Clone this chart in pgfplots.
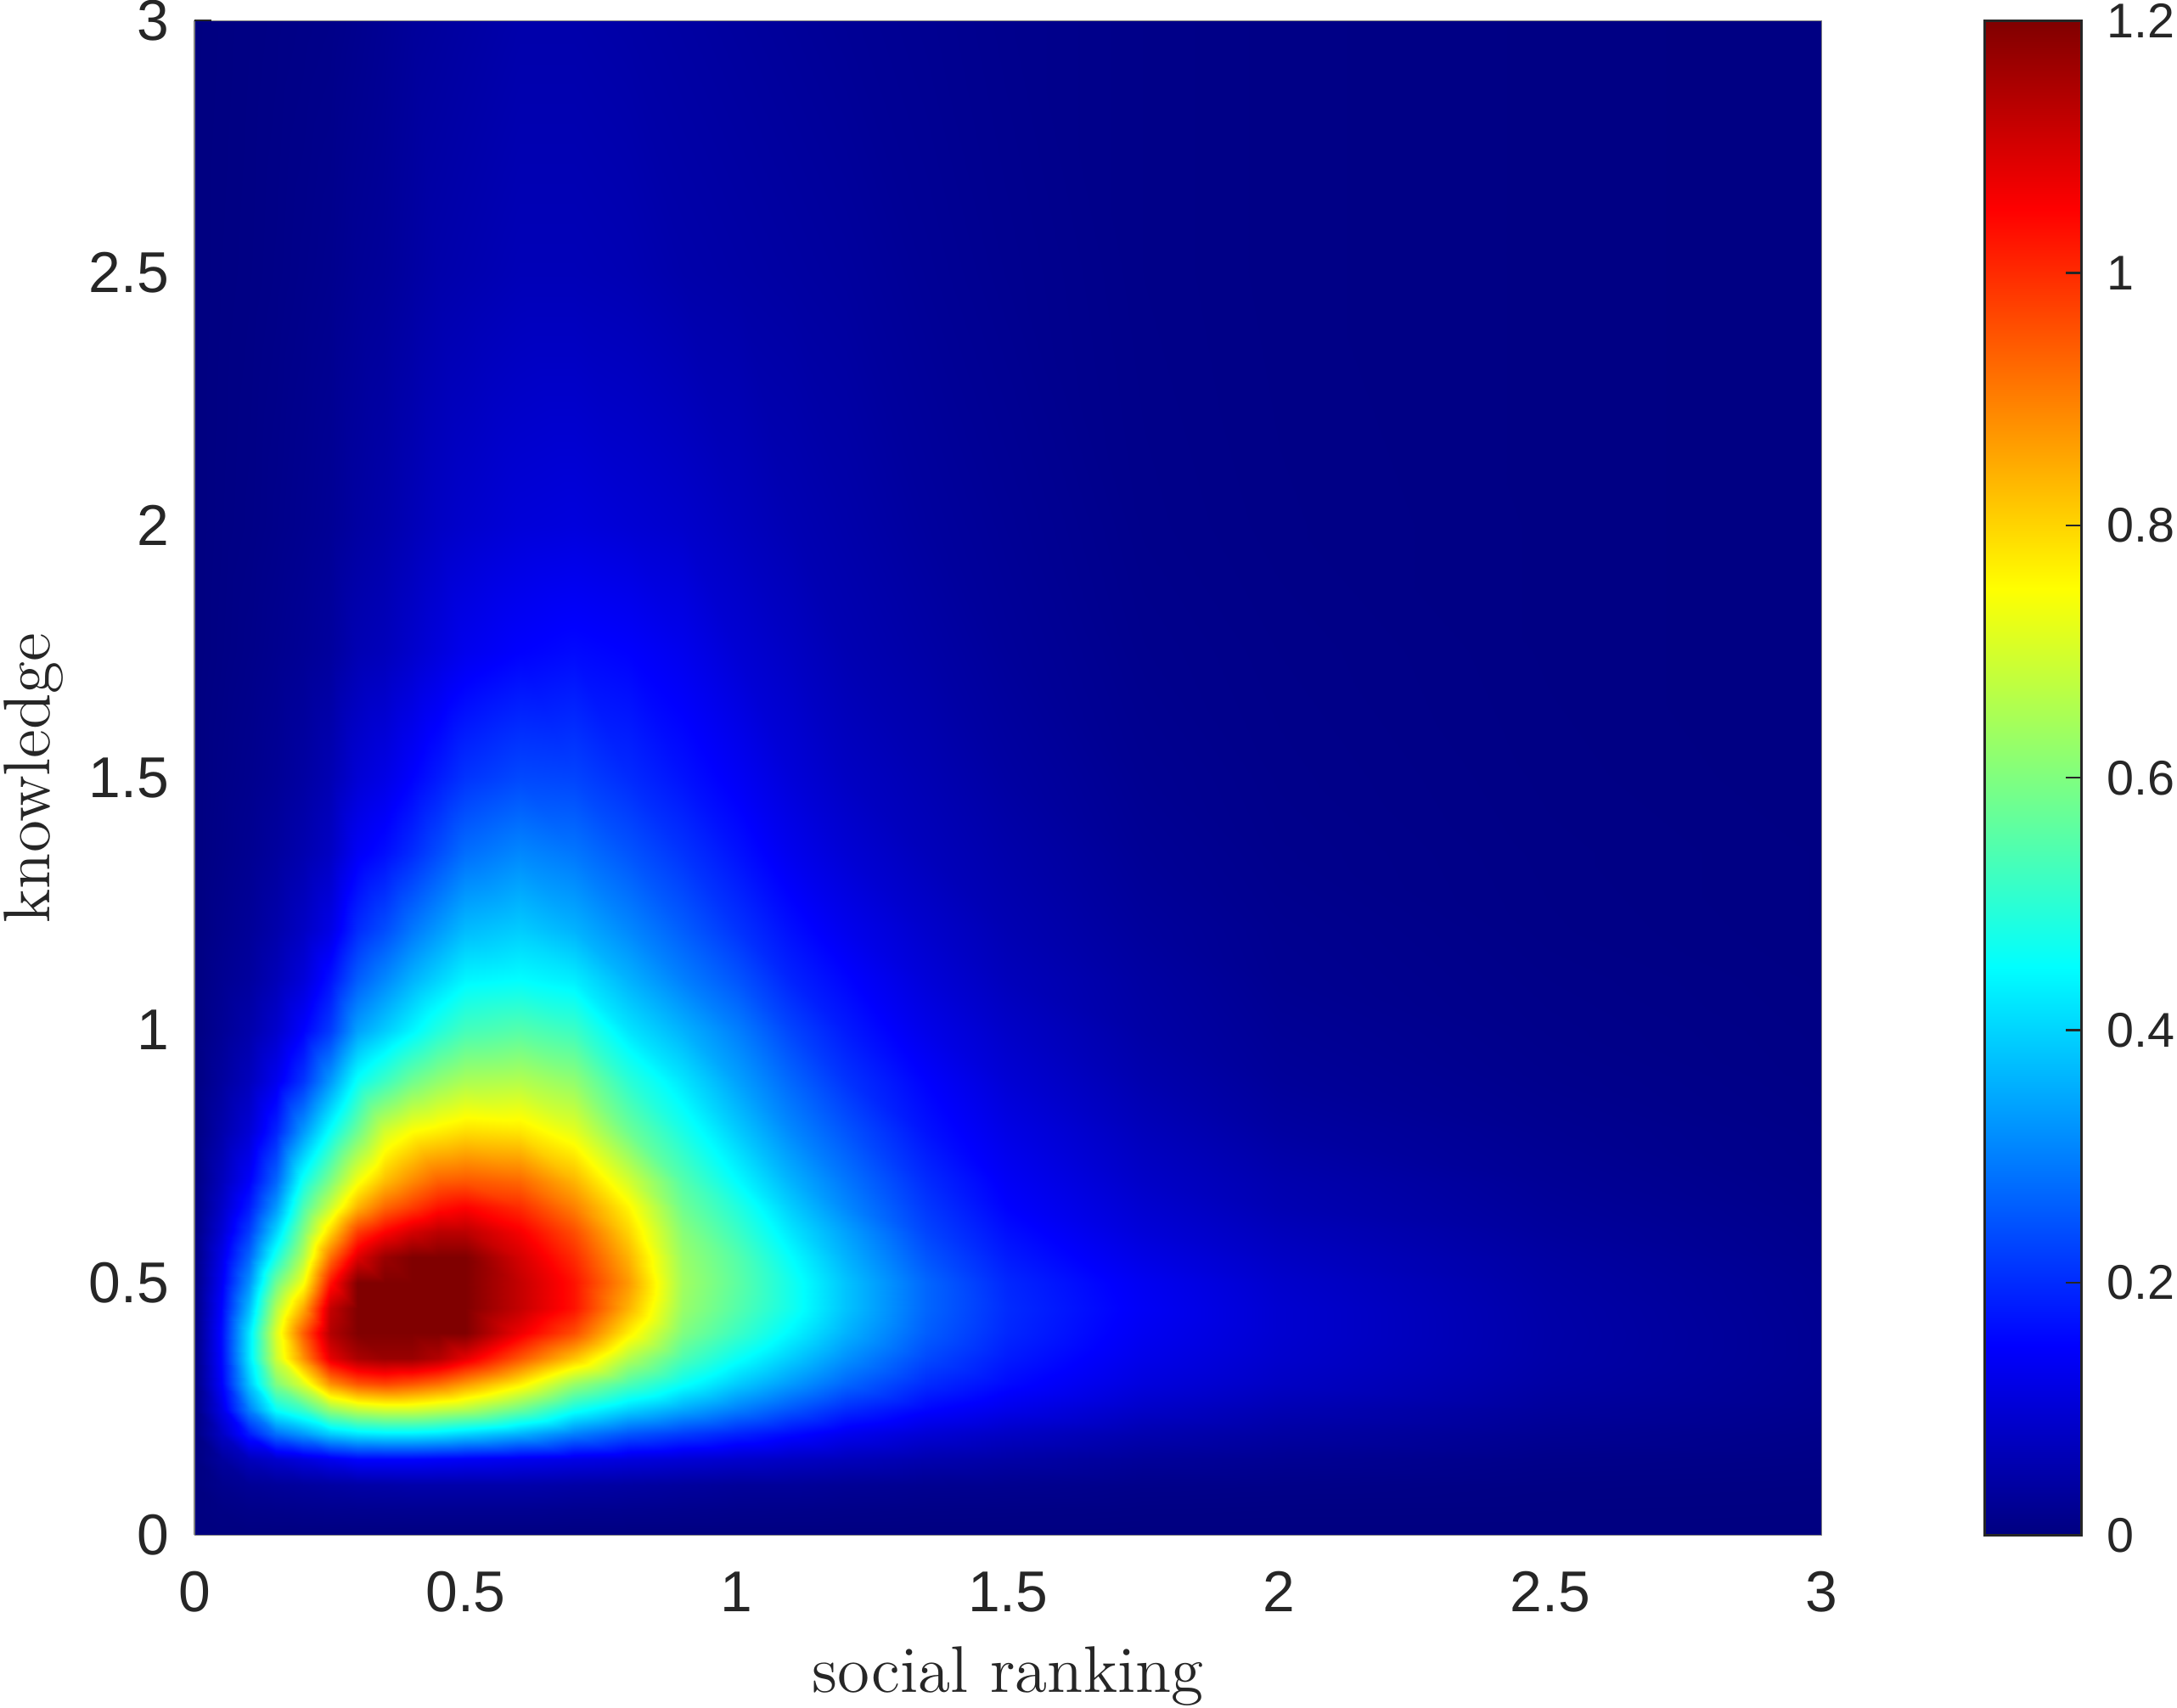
\documentclass[border=0pt]{standalone}
\usepackage{fontspec}
\usepackage{pgfplots}
\pgfplotsset{compat=1.18}
\newfontfamily\arial{Liberation Sans}
\definecolor{tickgray}{HTML}{262626}
\begin{document}
\begin{tikzpicture}
\useasboundingbox (0,0) rectangle (15.68,12.30);
\begin{axis}[
    at={(1.4006cm,1.2415cm)}, anchor=origin,
    scale only axis,
    width=11.72cm, height=10.91cm,
    view={0}{90},
    xmin=0, xmax=3, ymin=0, ymax=3,
    xtick={0,0.5,...,3}, ytick={0,0.5,...,3},
    xticklabels={0,0.5,1,1.5,2,2.5,3},
    yticklabels={0,0.5,1,1.5,2,2.5,3},
    tick style={draw=none},
    ytick pos=left,
    axis line style={draw=gray, line width=0.2pt},
    tick label style={font=\arial\fontsize{11.8}{13}\selectfont, text=tickgray},
    /pgf/number format/assume math mode=true,
    xticklabel style={yshift=-0.14cm},
    yticklabel style={xshift=-0.06cm},
    extra y ticks={3},
    extra y tick labels={},
    extra tick style={tick style={draw=tickgray, line width=0.4pt}, major tick length=0.12cm, tick align=inside},
    xlabel={social ranking},
    ylabel={knowledge},
    label style={font=\fontsize{13.5}{15}\selectfont, text=tickgray},
    xlabel style={at={(axis description cs:0.5,0)}, anchor=base, yshift=-1.13cm},
    ylabel style={at={(axis description cs:0,0.5)}, anchor=base, rotate=0, yshift=1.04cm},
    colormap={mjet}{rgb255(0cm)=(0,0,128) rgb255(1cm)=(0,0,255) rgb255(3cm)=(0,255,255) rgb255(5cm)=(255,255,0) rgb255(7cm)=(255,0,0) rgb255(8cm)=(128,0,0)},
    point meta min=0, point meta max=1.2,
    colorbar,
    colorbar/width=0.697cm,
    colorbar shift/.style={xshift=1.174cm},
    colorbar style={
        at={(parent axis.south east)}, anchor=south west,
        height=10.91cm,
        ymin=0, ymax=1.2,
        ytick={0,0.2,...,1.2},
        yticklabels={0,0.2,0.4,0.6,0.8,1,1.2},
        ytick pos=right,
        yticklabel pos=right,
        tick align=inside,
        major tick length=0.11cm,
        axis line style={draw=tickgray, line width=0.5pt},
        tick style={draw=tickgray, line width=0.4pt},
        tick label style={font=\arial\fontsize{10}{12}\selectfont, text=tickgray},
        yticklabel style={xshift=0.06cm},
        /pgf/number format/assume math mode=true,
    },
]
\addplot3[surf, shader=interp, mesh/ordering=y varies, mesh/cols=24, mesh/rows=26]
  table[row sep=\\, header=false, x index=0, y index=1, z index=2] {
0 0 0\\0 0.05 0\\0 0.1 0\\0 0.15 0\\0 0.2 0\\0 0.25 0\\0 0.3 0\\0 0.35 0\\0 0.4 0\\0 0.45 0\\0 0.5 0\\0 0.55 0\\0 0.6 0\\0 0.65 0\\0 0.7 0\\0 0.8 0\\0 0.9 0\\0 1 0\\0 1.1 0\\0 1.2 0\\0 1.35 0\\0 1.5 0\\0 1.75 0\\0 2 0\\0 2.5 0\\0 3 0\\
0.05 0 0\\0.05 0.05 0.005\\0.05 0.1 0.015\\0.05 0.15 0.035\\0.05 0.2 0.08\\0.05 0.25 0.12\\0.05 0.3 0.15\\0.05 0.35 0.16\\0.05 0.4 0.165\\0.05 0.45 0.155\\0.05 0.5 0.14\\0.05 0.55 0.125\\0.05 0.6 0.1\\0.05 0.65 0.085\\0.05 0.7 0.07\\0.05 0.8 0.05\\0.05 0.9 0.035\\0.05 1 0.025\\0.05 1.1 0.02\\0.05 1.2 0.015\\0.05 1.35 0.01\\0.05 1.5 0.008\\0.05 1.75 0.005\\0.05 2 0.004\\0.05 2.5 0.003\\0.05 3 0.002\\
0.1 0 0\\0.1 0.05 0.01\\0.1 0.1 0.025\\0.1 0.15 0.07\\0.1 0.2 0.18\\0.1 0.25 0.3\\0.1 0.3 0.38\\0.1 0.35 0.42\\0.1 0.4 0.42\\0.1 0.45 0.37\\0.1 0.5 0.32\\0.1 0.55 0.27\\0.1 0.6 0.22\\0.1 0.65 0.18\\0.1 0.7 0.145\\0.1 0.8 0.1\\0.1 0.9 0.07\\0.1 1 0.05\\0.1 1.1 0.035\\0.1 1.2 0.028\\0.1 1.35 0.02\\0.1 1.5 0.015\\0.1 1.75 0.01\\0.1 2 0.007\\0.1 2.5 0.005\\0.1 3 0.004\\
0.15 0 0\\0.15 0.05 0.012\\0.15 0.1 0.03\\0.15 0.15 0.09\\0.15 0.2 0.28\\0.15 0.25 0.46\\0.15 0.3 0.6\\0.15 0.35 0.69\\0.15 0.4 0.71\\0.15 0.45 0.66\\0.15 0.5 0.58\\0.15 0.55 0.48\\0.15 0.6 0.4\\0.15 0.65 0.33\\0.15 0.7 0.27\\0.15 0.8 0.19\\0.15 0.9 0.13\\0.15 1 0.09\\0.15 1.1 0.065\\0.15 1.2 0.05\\0.15 1.35 0.035\\0.15 1.5 0.025\\0.15 1.75 0.017\\0.15 2 0.012\\0.15 2.5 0.008\\0.15 3 0.006\\
0.2 0 0\\0.2 0.05 0.015\\0.2 0.1 0.035\\0.2 0.15 0.11\\0.2 0.2 0.33\\0.2 0.25 0.52\\0.2 0.3 0.71\\0.2 0.35 0.88\\0.2 0.4 0.94\\0.2 0.45 0.85\\0.2 0.5 0.74\\0.2 0.55 0.66\\0.2 0.6 0.6\\0.2 0.65 0.54\\0.2 0.7 0.47\\0.2 0.8 0.33\\0.2 0.9 0.21\\0.2 1 0.15\\0.2 1.1 0.105\\0.2 1.2 0.08\\0.2 1.35 0.055\\0.2 1.5 0.04\\0.2 1.75 0.025\\0.2 2 0.018\\0.2 2.5 0.012\\0.2 3 0.008\\
0.25 0 0\\0.25 0.05 0.017\\0.25 0.1 0.04\\0.25 0.15 0.13\\0.25 0.2 0.39\\0.25 0.25 0.63\\0.25 0.3 0.88\\0.25 0.35 1.08\\0.25 0.4 1.14\\0.25 0.45 1.12\\0.25 0.5 1.03\\0.25 0.55 0.92\\0.25 0.6 0.8\\0.25 0.65 0.69\\0.25 0.7 0.6\\0.25 0.8 0.46\\0.25 0.9 0.33\\0.25 1 0.22\\0.25 1.1 0.17\\0.25 1.2 0.12\\0.25 1.35 0.08\\0.25 1.5 0.06\\0.25 1.75 0.035\\0.25 2 0.025\\0.25 2.5 0.016\\0.25 3 0.01\\
0.3 0 0\\0.3 0.05 0.018\\0.3 0.1 0.045\\0.3 0.15 0.15\\0.3 0.2 0.42\\0.3 0.25 0.68\\0.3 0.3 0.95\\0.3 0.35 1.15\\0.3 0.4 1.2\\0.3 0.45 1.22\\0.3 0.5 1.2\\0.3 0.55 1.09\\0.3 0.6 0.98\\0.3 0.65 0.84\\0.3 0.7 0.74\\0.3 0.8 0.58\\0.3 0.9 0.46\\0.3 1 0.34\\0.3 1.1 0.26\\0.3 1.2 0.2\\0.3 1.35 0.14\\0.3 1.5 0.1\\0.3 1.75 0.06\\0.3 2 0.04\\0.3 2.5 0.025\\0.3 3 0.016\\
0.35 0 0\\0.35 0.05 0.019\\0.35 0.1 0.047\\0.35 0.15 0.15\\0.35 0.2 0.43\\0.35 0.25 0.7\\0.35 0.3 0.97\\0.35 0.35 1.17\\0.35 0.4 1.22\\0.35 0.45 1.25\\0.35 0.5 1.23\\0.35 0.55 1.17\\0.35 0.6 1.05\\0.35 0.65 0.93\\0.35 0.7 0.83\\0.35 0.8 0.7\\0.35 0.9 0.52\\0.35 1 0.39\\0.35 1.1 0.31\\0.35 1.2 0.24\\0.35 1.35 0.165\\0.35 1.5 0.12\\0.35 1.75 0.07\\0.35 2 0.05\\0.35 2.5 0.03\\0.35 3 0.022\\
0.4 0 0\\0.4 0.05 0.02\\0.4 0.1 0.05\\0.4 0.15 0.15\\0.4 0.2 0.43\\0.4 0.25 0.7\\0.4 0.3 0.95\\0.4 0.35 1.17\\0.4 0.4 1.23\\0.4 0.45 1.25\\0.4 0.5 1.25\\0.4 0.55 1.2\\0.4 0.6 1.1\\0.4 0.65 0.98\\0.4 0.7 0.89\\0.4 0.8 0.75\\0.4 0.9 0.58\\0.4 1 0.44\\0.4 1.1 0.36\\0.4 1.2 0.29\\0.4 1.35 0.2\\0.4 1.5 0.15\\0.4 1.75 0.09\\0.4 2 0.065\\0.4 2.5 0.04\\0.4 3 0.03\\
0.45 0 0\\0.45 0.05 0.02\\0.45 0.1 0.05\\0.45 0.15 0.145\\0.45 0.2 0.42\\0.45 0.25 0.68\\0.45 0.3 0.92\\0.45 0.35 1.14\\0.45 0.4 1.22\\0.45 0.45 1.25\\0.45 0.5 1.25\\0.45 0.55 1.21\\0.45 0.6 1.13\\0.45 0.65 1.03\\0.45 0.7 0.94\\0.45 0.8 0.77\\0.45 0.9 0.62\\0.45 1 0.49\\0.45 1.1 0.4\\0.45 1.2 0.33\\0.45 1.35 0.24\\0.45 1.5 0.18\\0.45 1.75 0.11\\0.45 2 0.08\\0.45 2.5 0.05\\0.45 3 0.035\\
0.5 0 0\\0.5 0.05 0.02\\0.5 0.1 0.05\\0.5 0.15 0.14\\0.5 0.2 0.4\\0.5 0.25 0.66\\0.5 0.3 0.87\\0.5 0.35 1.08\\0.5 0.4 1.2\\0.5 0.45 1.24\\0.5 0.5 1.24\\0.5 0.55 1.2\\0.5 0.6 1.13\\0.5 0.65 1.05\\0.5 0.7 0.95\\0.5 0.8 0.79\\0.5 0.9 0.65\\0.5 1 0.53\\0.5 1.1 0.44\\0.5 1.2 0.37\\0.5 1.35 0.28\\0.5 1.5 0.21\\0.5 1.75 0.13\\0.5 2 0.09\\0.5 2.5 0.055\\0.5 3 0.04\\
0.6 0 0\\0.6 0.05 0.02\\0.6 0.1 0.05\\0.6 0.15 0.13\\0.6 0.2 0.36\\0.6 0.25 0.58\\0.6 0.3 0.77\\0.6 0.35 0.95\\0.6 0.4 1.07\\0.6 0.45 1.12\\0.6 0.5 1.12\\0.6 0.55 1.1\\0.6 0.6 1.06\\0.6 0.65 1\\0.6 0.7 0.93\\0.6 0.8 0.78\\0.6 0.9 0.66\\0.6 1 0.55\\0.6 1.1 0.45\\0.6 1.2 0.39\\0.6 1.35 0.31\\0.6 1.5 0.235\\0.6 1.75 0.15\\0.6 2 0.105\\0.6 2.5 0.065\\0.6 3 0.05\\
0.7 0 0\\0.7 0.05 0.018\\0.7 0.1 0.045\\0.7 0.15 0.12\\0.7 0.2 0.3\\0.7 0.25 0.47\\0.7 0.3 0.63\\0.7 0.35 0.82\\0.7 0.4 0.96\\0.7 0.45 1.03\\0.7 0.5 1.03\\0.7 0.55 1\\0.7 0.6 0.96\\0.7 0.65 0.9\\0.7 0.7 0.84\\0.7 0.8 0.72\\0.7 0.9 0.62\\0.7 1 0.52\\0.7 1.1 0.43\\0.7 1.2 0.36\\0.7 1.35 0.29\\0.7 1.5 0.23\\0.7 1.75 0.16\\0.7 2 0.11\\0.7 2.5 0.065\\0.7 3 0.05\\
0.8 0 0\\0.8 0.05 0.017\\0.8 0.1 0.04\\0.8 0.15 0.11\\0.8 0.2 0.25\\0.8 0.25 0.4\\0.8 0.3 0.54\\0.8 0.35 0.66\\0.8 0.4 0.77\\0.8 0.45 0.84\\0.8 0.5 0.87\\0.8 0.55 0.84\\0.8 0.6 0.8\\0.8 0.65 0.76\\0.8 0.7 0.7\\0.8 0.8 0.58\\0.8 0.9 0.5\\0.8 1 0.42\\0.8 1.1 0.36\\0.8 1.2 0.31\\0.8 1.35 0.25\\0.8 1.5 0.2\\0.8 1.75 0.15\\0.8 2 0.1\\0.8 2.5 0.06\\0.8 3 0.045\\
0.9 0 0\\0.9 0.05 0.015\\0.9 0.1 0.035\\0.9 0.15 0.1\\0.9 0.2 0.22\\0.9 0.25 0.35\\0.9 0.3 0.46\\0.9 0.35 0.54\\0.9 0.4 0.6\\0.9 0.45 0.63\\0.9 0.5 0.64\\0.9 0.55 0.63\\0.9 0.6 0.61\\0.9 0.65 0.58\\0.9 0.7 0.55\\0.9 0.8 0.48\\0.9 0.9 0.42\\0.9 1 0.36\\0.9 1.1 0.3\\0.9 1.2 0.26\\0.9 1.35 0.21\\0.9 1.5 0.17\\0.9 1.75 0.13\\0.9 2 0.09\\0.9 2.5 0.05\\0.9 3 0.04\\
1 0 0\\1 0.05 0.013\\1 0.1 0.03\\1 0.15 0.09\\1 0.2 0.19\\1 0.25 0.3\\1 0.3 0.39\\1 0.35 0.46\\1 0.4 0.52\\1 0.45 0.55\\1 0.5 0.56\\1 0.55 0.55\\1 0.6 0.52\\1 0.65 0.49\\1 0.7 0.45\\1 0.8 0.39\\1 0.9 0.34\\1 1 0.3\\1 1.1 0.25\\1 1.2 0.21\\1 1.35 0.17\\1 1.5 0.14\\1 1.75 0.1\\1 2 0.075\\1 2.5 0.045\\1 3 0.035\\
1.1 0 0\\1.1 0.05 0.012\\1.1 0.1 0.03\\1.1 0.15 0.08\\1.1 0.2 0.16\\1.1 0.25 0.25\\1.1 0.3 0.33\\1.1 0.35 0.39\\1.1 0.4 0.44\\1.1 0.45 0.47\\1.1 0.5 0.47\\1.1 0.55 0.45\\1.1 0.6 0.42\\1.1 0.65 0.39\\1.1 0.7 0.36\\1.1 0.8 0.31\\1.1 0.9 0.27\\1.1 1 0.23\\1.1 1.1 0.19\\1.1 1.2 0.165\\1.1 1.35 0.13\\1.1 1.5 0.105\\1.1 1.75 0.08\\1.1 2 0.06\\1.1 2.5 0.04\\1.1 3 0.03\\
1.2 0 0\\1.2 0.05 0.01\\1.2 0.1 0.025\\1.2 0.15 0.07\\1.2 0.2 0.13\\1.2 0.25 0.2\\1.2 0.3 0.27\\1.2 0.35 0.32\\1.2 0.4 0.36\\1.2 0.45 0.38\\1.2 0.5 0.38\\1.2 0.55 0.36\\1.2 0.6 0.34\\1.2 0.65 0.31\\1.2 0.7 0.29\\1.2 0.8 0.25\\1.2 0.9 0.21\\1.2 1 0.18\\1.2 1.1 0.155\\1.2 1.2 0.13\\1.2 1.35 0.1\\1.2 1.5 0.08\\1.2 1.75 0.06\\1.2 2 0.05\\1.2 2.5 0.035\\1.2 3 0.025\\
1.35 0 0\\1.35 0.05 0.008\\1.35 0.1 0.02\\1.35 0.15 0.055\\1.35 0.2 0.1\\1.35 0.25 0.155\\1.35 0.3 0.2\\1.35 0.35 0.235\\1.35 0.4 0.26\\1.35 0.45 0.27\\1.35 0.5 0.27\\1.35 0.55 0.25\\1.35 0.6 0.23\\1.35 0.65 0.215\\1.35 0.7 0.2\\1.35 0.8 0.17\\1.35 0.9 0.15\\1.35 1 0.125\\1.35 1.1 0.105\\1.35 1.2 0.09\\1.35 1.35 0.07\\1.35 1.5 0.06\\1.35 1.75 0.045\\1.35 2 0.035\\1.35 2.5 0.025\\1.35 3 0.02\\
1.5 0 0\\1.5 0.05 0.007\\1.5 0.1 0.018\\1.5 0.15 0.045\\1.5 0.2 0.08\\1.5 0.25 0.125\\1.5 0.3 0.16\\1.5 0.35 0.18\\1.5 0.4 0.195\\1.5 0.45 0.2\\1.5 0.5 0.195\\1.5 0.55 0.18\\1.5 0.6 0.165\\1.5 0.65 0.15\\1.5 0.7 0.14\\1.5 0.8 0.12\\1.5 0.9 0.1\\1.5 1 0.085\\1.5 1.1 0.07\\1.5 1.2 0.06\\1.5 1.35 0.05\\1.5 1.5 0.04\\1.5 1.75 0.03\\1.5 2 0.025\\1.5 2.5 0.018\\1.5 3 0.015\\
1.75 0 0\\1.75 0.05 0.005\\1.75 0.1 0.012\\1.75 0.15 0.03\\1.75 0.2 0.055\\1.75 0.25 0.085\\1.75 0.3 0.11\\1.75 0.35 0.125\\1.75 0.4 0.135\\1.75 0.45 0.14\\1.75 0.5 0.135\\1.75 0.55 0.12\\1.75 0.6 0.105\\1.75 0.65 0.095\\1.75 0.7 0.085\\1.75 0.8 0.07\\1.75 0.9 0.055\\1.75 1 0.045\\1.75 1.1 0.04\\1.75 1.2 0.033\\1.75 1.35 0.025\\1.75 1.5 0.02\\1.75 1.75 0.015\\1.75 2 0.012\\1.75 2.5 0.01\\1.75 3 0.01\\
2 0 0\\2 0.05 0.004\\2 0.1 0.01\\2 0.15 0.022\\2 0.2 0.04\\2 0.25 0.06\\2 0.3 0.08\\2 0.35 0.09\\2 0.4 0.095\\2 0.45 0.095\\2 0.5 0.09\\2 0.55 0.08\\2 0.6 0.07\\2 0.65 0.06\\2 0.7 0.055\\2 0.8 0.04\\2 0.9 0.03\\2 1 0.025\\2 1.1 0.02\\2 1.2 0.018\\2 1.35 0.014\\2 1.5 0.012\\2 1.75 0.01\\2 2 0.008\\2 2.5 0.007\\2 3 0.007\\
2.5 0 0\\2.5 0.05 0.003\\2.5 0.1 0.006\\2.5 0.15 0.012\\2.5 0.2 0.022\\2.5 0.25 0.033\\2.5 0.3 0.042\\2.5 0.35 0.047\\2.5 0.4 0.048\\2.5 0.45 0.047\\2.5 0.5 0.044\\2.5 0.55 0.04\\2.5 0.6 0.034\\2.5 0.65 0.03\\2.5 0.7 0.026\\2.5 0.8 0.02\\2.5 0.9 0.015\\2.5 1 0.012\\2.5 1.1 0.01\\2.5 1.2 0.008\\2.5 1.35 0.007\\2.5 1.5 0.006\\2.5 1.75 0.005\\2.5 2 0.005\\2.5 2.5 0.005\\2.5 3 0.005\\
3 0 0\\3 0.05 0.002\\3 0.1 0.004\\3 0.15 0.008\\3 0.2 0.012\\3 0.25 0.017\\3 0.3 0.02\\3 0.35 0.022\\3 0.4 0.022\\3 0.45 0.021\\3 0.5 0.02\\3 0.55 0.017\\3 0.6 0.015\\3 0.65 0.013\\3 0.7 0.011\\3 0.8 0.009\\3 0.9 0.007\\3 1 0.006\\3 1.1 0.005\\3 1.2 0.004\\3 1.35 0.004\\3 1.5 0.003\\3 1.75 0.003\\3 2 0.003\\3 2.5 0.003\\3 3 0.003\\
};
\end{axis}
\end{tikzpicture}
\end{document}
